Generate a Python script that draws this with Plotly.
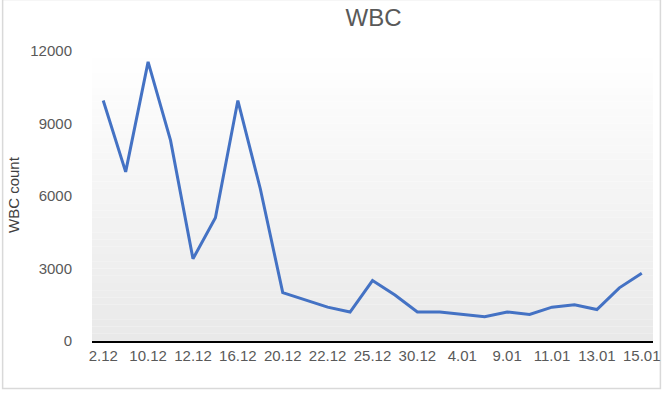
import plotly.graph_objects as go

# ---- data ----
dates = ["2.12", "7.12", "10.12", "11.12", "12.12", "14.12", "16.12", "18.12",
         "20.12", "21.12", "22.12", "23.12", "25.12", "27.12", "30.12", "2.01",
         "4.01", "7.01", "9.01", "10.01", "11.01", "12.01", "13.01", "14.01", "15.01"]
wbc = [9950, 7000, 11550, 8300, 3400, 5100, 9950, 6300,
       2000, 1700, 1400, 1200, 2500, 1900, 1200, 1200,
       1100, 1000, 1200, 1100, 1400, 1500, 1300, 2200, 2800]
tick_labels = ["2.12", "10.12", "12.12", "16.12", "20.12", "22.12", "25.12",
               "30.12", "4.01", "9.01", "11.01", "13.01", "15.01"]
y_ticks = [0, 3000, 6000, 9000, 12000]
y_tick_text = ["0", "3000", "6000", "9000", "12000"]

W, H = 670, 394
ML, MR, MT, MB = 92, 10, 51, 53
PW, PH = W - ML - MR, H - MT - MB

FONT = "Liberation Sans, Arial, Helvetica, sans-serif"
GRAY = "#595959"

fig = go.Figure()
fig.add_trace(go.Scatter(x=dates, y=wbc, mode="lines",
                         line=dict(color="#4472C4", width=3), showlegend=False))

shapes = []
# gradient background of plot area (white at top -> light gray at bottom)
N = 40
for i in range(N):
    t = (i + 0.5) / N  # 0 bottom -> 1 top
    c = int(round(233 + (255 - 233) * t))
    shapes.append(dict(type="rect", xref="paper", yref="paper",
                       x0=0, x1=1, y0=i / N, y1=(i + 1) / N,
                       fillcolor=f"rgb({c},{c},{c})", line=dict(width=0), layer="below"))
# outer border
shapes.append(dict(type="rect", xref="paper", yref="paper",
                   x0=(1.5 - ML) / PW, x1=(667.5 - ML) / PW,
                   y0=(H - MT - 390.5) / PH, y1=(H - MT - 1.5) / PH,
                   line=dict(color="#d9d9d9", width=1.5), fillcolor="rgba(0,0,0,0)", layer="below"))

fig.update_layout(
    width=W, height=H,
    margin=dict(l=ML, r=MR, t=MT, b=MB),
    paper_bgcolor="white", plot_bgcolor="rgba(0,0,0,0)",
    font=dict(family=FONT, size=15, color=GRAY),
    title=dict(text="WBC", x=(377 - ML) / PW, xref="paper", xanchor="center",
               y=1 - 18 / H, yref="container", yanchor="middle",
               font=dict(size=24, color=GRAY, family=FONT)),
    shapes=shapes,
    annotations=[dict(text="WBC count", xref="paper", yref="paper",
                      x=(12 - ML) / PW, y=(H - MT - 196) / PH, textangle=-90,
                      showarrow=False, xanchor="center", yanchor="middle",
                      font=dict(size=15, color="#404040", family=FONT))],
)
fig.update_xaxes(type="category", range=[-0.5, len(dates) - 0.5],
                 tickmode="array", tickvals=tick_labels, ticktext=tick_labels,
                 showline=True, linecolor="black", linewidth=2,
                 showgrid=False, zeroline=False, ticks="",
                 tickfont=dict(size=15, color=GRAY))
fig.update_yaxes(range=[0, 12000], tickmode="array", tickvals=y_ticks,
                 ticktext=y_tick_text,
                 showgrid=False, zeroline=False, showline=False,
                 ticks="outside", ticklen=16, tickcolor="rgba(0,0,0,0)",
                 tickfont=dict(size=15, color=GRAY))

fig.write_html("out.html")
